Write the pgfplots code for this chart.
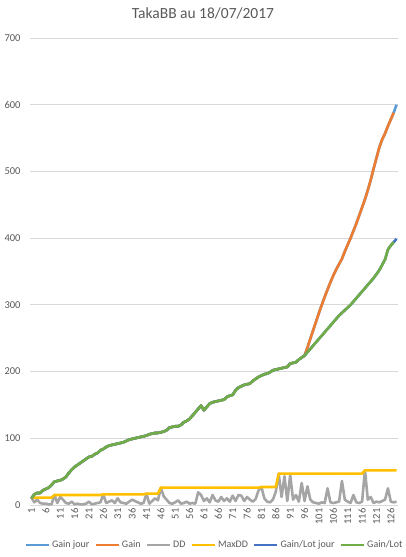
\documentclass[border=0pt]{standalone}
\usepackage{fontspec}
\setmainfont{Carlito}
\usepackage{pgfplots}
\usepackage{pgfplotstable}
\pgfplotsset{compat=1.18}

\definecolor{cLightBlue}{HTML}{5B9BD5}
\definecolor{cOrange}{HTML}{ED7D31}
\definecolor{cGray}{HTML}{A5A5A5}
\definecolor{cGold}{HTML}{FFC000}
\definecolor{cBlue}{HTML}{4472C4}
\definecolor{cGreen}{HTML}{70AD47}
\definecolor{cText}{HTML}{595959}
\definecolor{cGrid}{HTML}{D9D9D9}

% i = trade day, gl = Gain/Lot, g = Gain, dd = DD, md = MaxDD
\pgfplotstableread{
i gl g dd md
1 10 10 11 11
2 16 16 4 11
3 18 18 8 11
4 18 18 3 11
5 22 22 2 11
6 24 24 2 11
7 26 26 1 11
8 30 30 1 11
9 35 35 15 15
10 36 36 3 15
11 37 37 12 15
12 39 39 8 15
13 42 42 3 15
14 48 48 2 15
15 53 53 5 15
16 57 57 1 15
17 60 60 2 15
18 63 63 1 15
19 66 66 1 15
20 69 69 2 15
21 72 72 5 15
22 73 73 1 15
23 76 76 2 15
24 78 78 3 15
25 82 82 4 15
26 84 84 16 16
27 87 87 3 16
28 89 89 5 16
29 90 90 7 16
30 91 91 3 16
31 92 92 10 16
32 93 93 4 16
33 94 94 3 16
34 96 96 2 16
35 98 98 5 16
36 99 99 8 16
37 100 100 6 16
38 101 101 4 16
39 102 102 2 16
40 103 103 3 16
41 104 104 17 17
42 106 106 2 17
43 107 107 6 17
44 108 108 10 17
45 108 108 7 17
46 109 109 26 26
47 110 110 13 26
48 112 112 8 26
49 116 116 3 26
50 117 117 2 26
51 118 118 4 26
52 118 118 7 26
53 120 120 2 26
54 124 124 3 26
55 126 126 5 26
56 129 129 2 26
57 134 134 3 26
58 139 139 2 26
59 144 144 19 26
60 149 149 15 26
61 142 142 6 26
62 147 147 10 26
63 152 152 4 26
64 154 154 15 26
65 155 155 7 26
66 156 156 5 26
67 157 157 12 26
68 158 158 6 26
69 162 162 10 26
70 164 164 5 26
71 165 165 14 26
72 172 172 6 26
73 176 176 15 26
74 178 178 14 26
75 180 180 6 26
76 181 181 12 26
77 182 182 8 26
78 186 186 5 26
79 189 189 9 26
80 192 192 22 26
81 194 194 27 27
82 196 196 10 27
83 197 197 5 27
84 199 199 4 27
85 202 202 8 27
86 203 203 20 27
87 204 204 47 47
88 205 205 12 47
89 206 206 43 47
90 207 207 6 47
91 212 212 45 47
92 213 213 8 47
93 214 214 15 47
94 218 218 5 47
95 221 221 33 47
96 224 224 6 47
97 229 236 28 47
98 234 249 8 47
99 239 262 4 47
100 244 275 3 47
101 249 288 2 47
102 254 300 4 47
103 259 312 3 47
104 264 323 25 47
105 269 334 4 47
106 274 344 3 47
107 279 353 4 47
108 284 361 5 47
109 288 369 36 47
110 292 380 8 47
111 296 390 5 47
112 300 400 3 47
113 305 411 15 47
114 310 422 4 47
115 315 434 3 47
116 320 446 5 47
117 325 458 52 52
118 330 472 8 52
119 335 487 12 52
120 340 504 3 52
121 346 520 5 52
122 352 536 4 52
123 360 548 6 52
124 368 557 8 52
125 383 568 25 52
126 389 578 5 52
127 394 588 4 52
128 399 600 5 52
}\trades

\begin{document}
\begin{tikzpicture}
\useasboundingbox (-30bp,-52bp) rectangle (376bp,505bp);
\begin{axis}[
  at={(0,0)}, anchor=south west,
  width=368bp, height=467bp, scale only axis,
  xmin=0.5, xmax=128.5, ymin=0, ymax=700,
  xtick={1,6,...,126}, ytick={0,100,...,700},
  /pgf/number format/assume math mode=true,
  axis x line*=bottom, axis y line*=left,
  x axis line style={draw=cGrid, line width=0.75bp},
  y axis line style={draw=none},
  major tick length=0pt,
  ymajorgrids, grid style={draw=cGrid, line width=0.75bp},
  tick label style={font=\fontsize{10.5bp}{12bp}\selectfont, text=cText},
  x tick label style={rotate=90, anchor=east, xshift=0bp},
  y tick label style={xshift=-6bp},
  title={TakaBB au 18/07/2017},
  title style={at={(0.47,1)}, anchor=center, yshift=19bp,
    font=\fontsize{15.5bp}{18bp}\selectfont, text=cText},
  legend columns=-1,
  legend style={at={(0.5,-0.0857)}, anchor=center, draw=none, fill=none,
    font=\fontsize{10bp}{12bp}\selectfont, text=cText,
    nodes={inner xsep=1bp, inner ysep=2bp},
    /tikz/every even column/.append style={column sep=4bp},
    /tikz/every odd column/.append style={column sep=1bp},
    inner xsep=0pt},
  legend image code/.code={\draw[#1, line width=2.6bp] (0bp,0bp) -- (23bp,0bp);},
  every axis plot/.append style={line width=2.6bp, line join=round, no marks},
]
\addplot[cLightBlue] table[x=i, y=g] {\trades};
\addlegendentry{Gain jour}
\addplot[cOrange, restrict x to domain=1:127] table[x=i, y=g] {\trades};
\addlegendentry{Gain}
\addplot[cGray] table[x=i, y=dd] {\trades};
\addlegendentry{DD}
\addplot[cGold] table[x=i, y=md] {\trades};
\addlegendentry{MaxDD}
\addplot[cBlue] table[x=i, y=gl] {\trades};
\addlegendentry{Gain/Lot jour}
\addplot[cGreen, restrict x to domain=1:127] table[x=i, y=gl] {\trades};
\addlegendentry{Gain/Lot}
\end{axis}
\end{tikzpicture}
\end{document}
